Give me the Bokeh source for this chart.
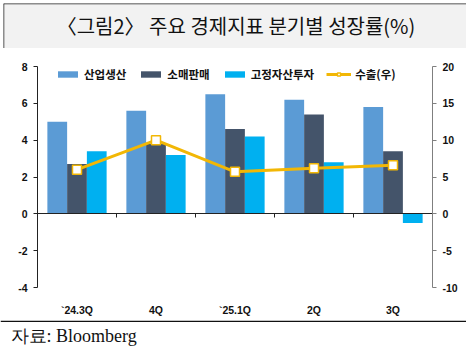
from bokeh.plotting import figure
from bokeh.models import (ColumnDataSource, Range1d, LinearAxis, FixedTicker, Label,
                          Span, Legend, LegendItem)
from bokeh.layouts import column
from bokeh.transform import dodge
from bokeh.embed import file_html
from bokeh.resources import INLINE

# ---------------- data ----------------
title_text = "〈그림2〉 주요 경제지표 분기별 성장률(%)"
source_text = "자료: Bloomberg"
categories = ["`24.3Q", "4Q", "`25.1Q", "2Q", "3Q"]
series_names = ["산업생산", "소매판매", "고정자산투자", "수출(우)"]
industrial = [5.0, 5.6, 6.5, 6.2, 5.8]
retail = [2.7, 3.8, 4.6, 5.4, 3.4]
fixed_inv = [3.4, 3.2, 4.2, 2.8, -0.5]
exports = [6.0, 10.0, 5.7, 6.2, 6.6]
left_ticks = [-4, -2, 0, 2, 4, 6, 8]
right_ticks = [-10, -5, 0, 5, 10, 15, 20]

# ---------------- styles ----------------
W = 466
C_IND = "#5B9BD5"
C_RET = "#44546A"
C_FIX = "#00B0F0"
C_EXP = "#F2B705"
TICK_FONT = "Liberation Sans"
KR_FONT = "Noto Sans CJK KR"

xpos = list(range(1, len(categories) + 1))
src = ColumnDataSource(dict(x=xpos, ind=industrial, ret=retail, fix=fixed_inv, exp=exports))

# ---------------- header ----------------
hdr = figure(width=W, height=48, x_range=Range1d(0, W - 3), y_range=Range1d(0, 45),
             toolbar_location=None, output_backend="svg", frame_align=False,
             min_border_left=3, min_border_top=3, min_border_right=0, min_border_bottom=0,
             background_fill_color="#F2F2F2", border_fill_color="white",
             outline_line_color=None, x_axis_location=None, y_axis_location=None)
hdr.grid.visible = False
hdr.add_layout(Label(x=(W - 3) / 2 + 1, y=23, text=title_text, text_align="center",
                     text_baseline="middle", text_font=KR_FONT, text_font_size="20px",
                     text_color="#111111"))
hdr.add_layout(Span(location=45, dimension="width", line_color="#222222", line_width=1.5))
hdr.add_layout(Span(location=0, dimension="height", line_color="#222222", line_width=1.5))

# ---------------- main chart ----------------
p = figure(width=W, height=272, x_range=Range1d(0.5, 5.5), y_range=Range1d(-4, 8),
           toolbar_location=None, output_backend="svg", frame_align=False,
           min_border_left=37, min_border_right=34, min_border_top=18, min_border_bottom=33,
           outline_line_color=None, background_fill_color="white", border_fill_color="white",
           x_axis_location=None, y_axis_location=None)
p.grid.visible = False
p.extra_y_ranges = {"r": Range1d(-10, 20)}

bw = 0.25
r_ind = p.vbar(x=dodge("x", -bw, range=p.x_range), top="ind", width=bw, source=src,
               fill_color=C_IND, line_color=None)
r_ret = p.vbar(x=dodge("x", 0, range=p.x_range), top="ret", width=bw, source=src,
               fill_color=C_RET, line_color=None)
r_fix = p.vbar(x=dodge("x", bw, range=p.x_range), top="fix", width=bw, source=src,
               fill_color=C_FIX, line_color=None)
r_line = p.line("x", "exp", source=src, y_range_name="r", line_color=C_EXP, line_width=3)
r_mk = p.scatter("x", "exp", source=src, y_range_name="r", marker="square", size=9,
                 fill_color="white", line_color=C_EXP, line_width=1.5)

# left axis
yl = LinearAxis(ticker=FixedTicker(ticks=left_ticks),
                major_label_overrides={t: str(t) for t in left_ticks},
                axis_line_color="#222222",
                major_tick_line_color="#222222", major_tick_out=4, major_tick_in=0,
                minor_tick_line_color=None, major_label_text_font=TICK_FONT,
                major_label_text_font_style="bold", major_label_text_font_size="10.5px",
                major_label_text_color="#111111", major_label_standoff=6)
p.add_layout(yl, "left")

# right axis
yr = LinearAxis(y_range_name="r", ticker=FixedTicker(ticks=right_ticks),
                major_label_overrides={t: str(t) for t in right_ticks},
                axis_line_color="#7F7F7F", major_tick_line_color="#7F7F7F",
                major_tick_out=4, major_tick_in=0, minor_tick_line_color=None,
                major_label_text_font=TICK_FONT, major_label_text_font_style="bold",
                major_label_text_font_size="10.5px", major_label_text_color="#111111",
                major_label_standoff=6)
p.add_layout(yr, "right")

# category labels at bottom
xl = LinearAxis(ticker=FixedTicker(ticks=xpos),
                major_label_overrides={i: c for i, c in zip(xpos, categories)},
                axis_line_color=None, major_tick_line_color=None, minor_tick_line_color=None,
                major_label_text_font=TICK_FONT, major_label_text_font_style="bold",
                major_label_text_font_size="10.5px", major_label_text_color="#111111",
                major_label_standoff=10)
p.add_layout(xl, "below")

# zero line axis with ticks between groups (no labels)
between = [i + 0.5 for i in xpos[:-1]]
x0 = LinearAxis(fixed_location=0, ticker=FixedTicker(ticks=between),
                major_label_overrides={t: "" for t in between},
                axis_line_color="#222222", major_tick_line_color="#222222",
                major_tick_in=4, major_tick_out=0, minor_tick_line_color=None,
                major_label_standoff=0)
p.add_layout(x0, "above")

legend = Legend(items=[LegendItem(label=series_names[0], renderers=[r_ind]),
                       LegendItem(label=series_names[1], renderers=[r_ret]),
                       LegendItem(label=series_names[2], renderers=[r_fix]),
                       LegendItem(label=series_names[3], renderers=[r_line, r_mk])],
                orientation="horizontal", location=(18, 205), padding=0, margin=0,
                spacing=12, glyph_width=25, glyph_height=8, label_height=16,
                label_standoff=4, label_text_font=KR_FONT, label_text_font_style="bold",
                label_text_font_size="11.5px", label_text_color="#111111",
                background_fill_alpha=0, border_line_color=None)
p.add_layout(legend)

# ---------------- footer ----------------
ftr = figure(width=W, height=30, x_range=Range1d(0, W), y_range=Range1d(0, 30),
             toolbar_location=None, output_backend="svg", frame_align=False,
             min_border_left=0, min_border_top=0, min_border_right=0, min_border_bottom=0,
             background_fill_color="white", border_fill_color="white",
             outline_line_color=None, x_axis_location=None, y_axis_location=None)
ftr.grid.visible = False
ftr.add_layout(Span(location=29.3, dimension="width", line_color="#111111", line_width=1.5))
ftr.add_layout(Label(x=10, y=15, text=source_text, text_baseline="middle",
                     text_font="Liberation Serif", text_font_size="18px",
                     text_color="#111111"))

layout = column(hdr, p, ftr, spacing=0)
open("out.html", "w").write(file_html(layout, INLINE))
